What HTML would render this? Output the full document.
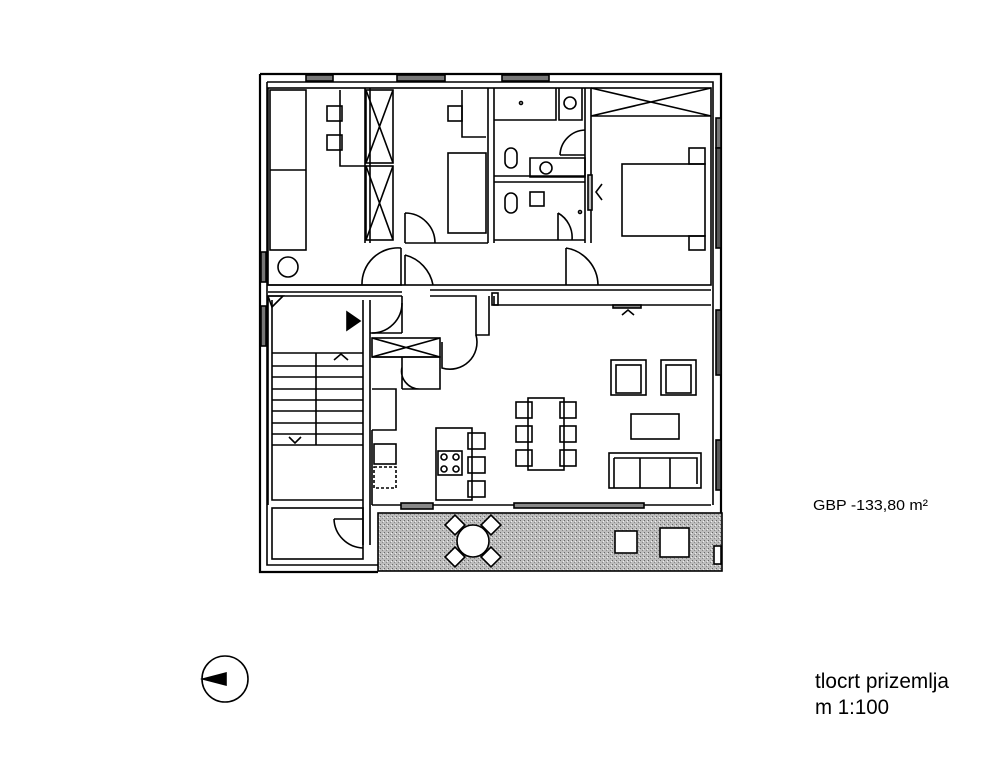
<!DOCTYPE html>
<html><head><meta charset="utf-8"><style>
html,body{margin:0;padding:0;background:#fff;width:986px;height:758px;overflow:hidden}
svg{display:block}
text{font-family:"Liberation Sans",sans-serif;fill:#000}
</style></head><body>
<svg width="986" height="758" viewBox="0 0 986 758" xmlns="http://www.w3.org/2000/svg">
<defs>
<pattern id="dots" width="4" height="4" patternUnits="userSpaceOnUse">
<rect width="4" height="4" fill="#bdbdbd"/><rect x="0" y="0" width="1" height="1" fill="#666"/><rect x="2" y="2" width="1" height="1" fill="#888"/><rect x="3" y="1" width="1" height="1" fill="#eee"/>
</pattern>
</defs>
<g fill="none" stroke="#000" stroke-width="1.6">
<rect x="378" y="513" width="344" height="58" fill="url(#dots)"/>
<path d="M260 74 H721 V513 M260 74 V572 H378" stroke-width="2.2"/>
<path d="M267 82 H713 V505 M267 82 V565 H378" />
<rect x="268" y="88" width="443" height="197"/>
<rect x="306" y="75" width="27" height="6" fill="#777"/>
<rect x="397" y="75" width="48" height="6" fill="#777"/>
<rect x="502" y="75" width="47" height="6" fill="#777"/>
<rect x="716" y="118" width="5" height="30" fill="#777"/>
<rect x="716" y="148" width="5" height="100" fill="#555"/>
<rect x="261" y="252" width="5" height="30" fill="#777"/>
<rect x="261" y="306" width="5" height="40" fill="#777"/>
<rect x="716" y="310" width="5" height="65" fill="#555"/>
<rect x="716" y="440" width="5" height="50" fill="#555"/>
<path d="M365 88 V243 M370 88 V243 M488 88 V243 M494 88 V243 M585 88 V243 M591 88 V243"/>
<path d="M268 285 H402 M430 290 H711 M268 292 H402"/>
<rect x="270" y="90" width="36" height="160"/><path d="M270 170 H306"/>
<circle cx="288" cy="267" r="10"/>
<path d="M340 90 V166 H365"/>
<rect x="327" y="106" width="15" height="15"/><rect x="327" y="135" width="15" height="15"/>
<rect x="366" y="90" width="27" height="73"/><path d="M366 90 L393 163 M393 90 L366 163"/>
<rect x="366" y="166" width="27" height="74"/><path d="M366 166 L393 240 M393 166 L366 240"/>
<path d="M462 90 V137 H486"/><rect x="448" y="106" width="14" height="15"/>
<rect x="448" y="153" width="38" height="80"/>
<path d="M405 243 H488"/>
<path d="M405 213 V243 M405 213 A30 30 0 0 1 435 243"/>
<path d="M494 120 H556 V88 M556 120 V88 M559 88 V120 H582 V88"/>
<circle cx="570" cy="103" r="6"/>
<circle cx="521" cy="103" r="1.5"/>
<rect x="505" y="148" width="12" height="20" rx="6"/>
<path d="M530 158 H585 V177 H530 Z M494 176 H585 M494 182 H585"/>
<circle cx="546" cy="168" r="6"/>
<rect x="505" y="193" width="12" height="20" rx="6"/>
<rect x="530" y="192" width="14" height="14"/>
<path d="M558 213 A28 28 0 0 1 572 240 M558 213 V240 M494 240 H585"/>
<path d="M585 130 A26 26 0 0 0 560 155 M560 155 H585"/>
<rect x="588" y="175" width="4" height="35" fill="#bbb"/>
<path d="M602 184 L596 192 L602 200"/>
<circle cx="580" cy="212" r="1.5"/>
<path d="M591 88 L711 116 M711 88 L591 116 M591 116 H711"/>
<rect x="622" y="164" width="83" height="72"/>
<rect x="689" y="148" width="16" height="16"/><rect x="689" y="236" width="16" height="14"/>
<path d="M566 248 V285 M566 248 A38 38 0 0 1 598 285"/>
<path d="M401 248 A36 36 0 0 0 362 285 M401 248 V285"/>
<path d="M405 255 A38 38 0 0 1 433 285 M405 255 V285"/>
<path d="M268 296 V505 M272 300 V500 H363 V300 M363 300 V545 M370 300 V545"/>
<path d="M268 296 H402 M370 333 H402"/>
<path d="M268 296 L283 296 L272 307 Z"/>
<path d="M347 312 L360 321 L347 330 Z" fill="#000"/>
<path d="M372 333 A30 30 0 0 0 402 303"/>
<path d="M272 353 H363 M272 366 H363 M272 377 H363 M272 389 H363 M272 400 H363 M272 411 H363 M272 423 H363 M272 434 H363 M272 445 H363 M316 353 V445"/>
<path d="M334 360 L341 354 L348 360 M289 437 L295 443 L301 437"/>
<path d="M402 296 V333 M430 296 H476 V335 H489 V296 M494 296 V305 H711"/>
<rect x="492" y="293" width="6" height="12"/>
<path d="M442 342 V368 A27 27 0 0 0 476 335"/>
<rect x="372" y="338" width="68" height="19"/><path d="M372 338 L440 357 M440 338 L372 357"/>
<path d="M372 357 H440 V389 H402 M402 357 V389 M420 389 A18 18 0 0 1 402 367"/>
<path d="M372 389 H396 V430 H372 M372 430 V505"/>
<rect x="374" y="444" width="22" height="20"/>
<rect x="374" y="467" width="22" height="21" stroke-dasharray="3 2"/>
<rect x="613" y="305" width="28" height="3" fill="#888"/>
<path d="M622 315 L628 310 L634 315"/>
<path d="M372 505 H711"/>
<rect x="436" y="428" width="36" height="72"/>
<rect x="438" y="451" width="24" height="24"/>
<circle cx="444" cy="457" r="3"/><circle cx="456" cy="457" r="3"/><circle cx="444" cy="469" r="3"/><circle cx="456" cy="469" r="3"/>
<rect x="468" y="433" width="17" height="16"/><rect x="468" y="457" width="17" height="16"/><rect x="468" y="481" width="17" height="16"/>
<rect x="528" y="398" width="36" height="72"/>
<rect x="516" y="402" width="16" height="16"/><rect x="516" y="426" width="16" height="16"/><rect x="516" y="450" width="16" height="16"/>
<rect x="560" y="402" width="16" height="16"/><rect x="560" y="426" width="16" height="16"/><rect x="560" y="450" width="16" height="16"/>
<rect x="611" y="360" width="35" height="35"/><rect x="616" y="365" width="25" height="28"/>
<rect x="661" y="360" width="35" height="35"/><rect x="666" y="365" width="25" height="28"/>
<rect x="631" y="414" width="48" height="25"/>
<rect x="609" y="453" width="92" height="35"/><path d="M614 458 H697 V484 M614 458 V488 M640 458 V488 M670 458 V488"/>
<rect x="401" y="503" width="32" height="6" fill="#888"/>
<rect x="514" y="503" width="130" height="5" fill="#888"/>
<rect x="272" y="508" width="91" height="51"/>
<path d="M363 548 A30 30 0 0 1 334 519 M334 519 H363"/>
<circle cx="473" cy="541" r="16" fill="#fff"/>
<rect x="448" y="518" width="14" height="14" transform="rotate(45 455 525)" fill="#fff"/>
<rect x="484" y="518" width="14" height="14" transform="rotate(45 491 525)" fill="#fff"/>
<rect x="448" y="550" width="14" height="14" transform="rotate(45 455 557)" fill="#fff"/>
<rect x="484" y="550" width="14" height="14" transform="rotate(45 491 557)" fill="#fff"/>
<rect x="615" y="531" width="22" height="22" fill="#fff"/>
<rect x="660" y="528" width="29" height="29" fill="#fff"/>
<rect x="714" y="546" width="7" height="18" fill="#fff"/>
<circle cx="225" cy="679" r="23"/>
<path d="M203 679 L226 673 L226 685 Z" fill="#000"/>
</g>
<text x="813" y="510" font-size="15" textLength="115" lengthAdjust="spacingAndGlyphs">GBP -133,80 m²</text>
<text x="815" y="688" font-size="21" textLength="134" lengthAdjust="spacingAndGlyphs">tlocrt prizemlja</text>
<text x="815" y="714" font-size="21" textLength="74" lengthAdjust="spacingAndGlyphs">m 1:100</text>
</svg>
</body></html>
